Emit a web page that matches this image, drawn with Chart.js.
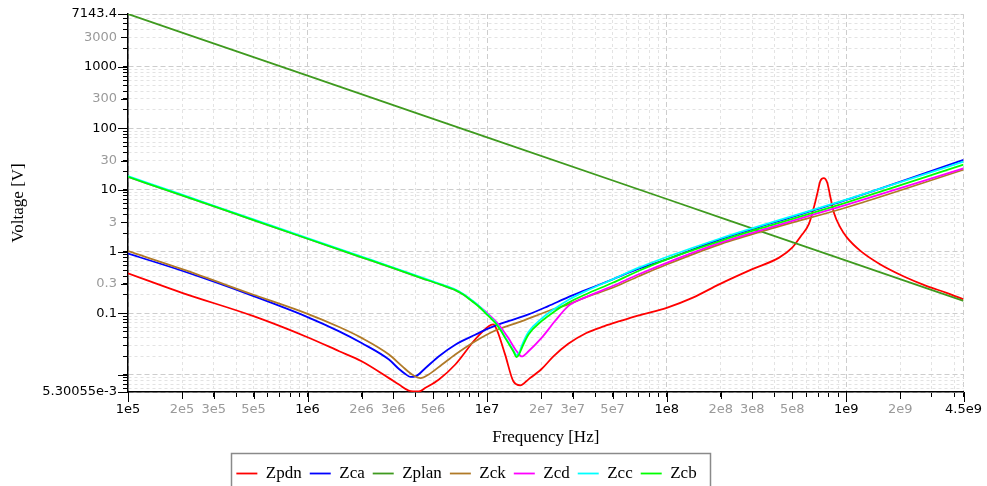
<!DOCTYPE html>
<html><head><meta charset="utf-8">
<script src="https://cdn.jsdelivr.net/npm/chart.js@4/dist/chart.umd.min.js"></script>
<style>html,body{margin:0;padding:0;background:#fff}</style>
</head><body>
<canvas id="c" width="987" height="486"></canvas>
<script>
// ---------- data ----------
const seriesNames  = ['Zpdn','Zca','Zplan','Zck','Zcd','Zcc','Zcb'];
const seriesColors = ['#ff0000','#0000ff','#3f9a1f','#b07a28','#ff00ff','#00ffff','#00ff00'];

const fPdn = [1e5,2e5,5e5,1e6,1.5e6,2e6,2.84e6,3.23e6,3.66e6,4.17e6,4.54e6,5.37e6,6.65e6,8.59e6,1.02e7,1.08e7,1.13e7,1.26e7,1.40e7,1.53e7,1.70e7,2.01e7,2.34e7,2.83e7,3.57e7,4.5e7,5.47e7,7e7,1e8,1.4e8,1.96e8,3.0e8,4.23e8,5.0e8,5.56e8,6.19e8,6.6e8,6.89e8,7.18e8,7.5e8,7.83e8,8.17e8,8.53e8,9.28e8,1.01e9,1.2e9,1.55e9,2.08e9,2.81e9,3.62e9,4.5e9];
const vPdn = [0.445,0.215,0.090,0.041,0.0243,0.0167,0.0089,0.0070,0.0056,0.0054,0.0062,0.0084,0.0148,0.038,0.062,0.066,0.055,0.0214,0.0079,0.0068,0.0085,0.0125,0.020,0.032,0.048,0.062,0.0746,0.093,0.123,0.18,0.295,0.52,0.80,1.16,1.75,2.79,5.2,8.6,14.1,15.6,13.2,7.55,4.3,2.45,1.69,1.03,0.62,0.40,0.277,0.215,0.168];

const fCa = [1e5,2e5,5e5,1e6,1.5e6,2e6,2.84e6,3.23e6,3.52e6,3.74e6,3.99e6,4.54e6,5.37e6,6.65e6,8.59e6,1.02e7,1.31e7,1.70e7,2.19e7,2.83e7,3.5e7,5e7,7e7,1e8,2e8,4e8,1e9,4.5e9];
const vCa = [0.93,0.49,0.19,0.087,0.051,0.033,0.0178,0.0125,0.0103,0.0093,0.0095,0.013,0.020,0.031,0.045,0.057,0.0746,0.096,0.131,0.183,0.235,0.356,0.53,0.75,1.6,3.0,6.9,30.9];

const fPlan = [1e5,1e6,1e7,1e8,1e9,4.5e9];
const vPlan = [7143.4,714,71.4,7.14,0.714,0.159];

const fCk = [1e5,2e5,5e5,1e6,1.5e6,2e6,2.84e6,3.37e6,3.82e6,4.26e6,4.73e6,5.61e6,6.65e6,8.59e6,1.11e7,1.56e7,2.19e7,2.83e7,3.5e7,5e7,7e7,1e8,2e8,4e8,1e9,4.5e9];
const vCk = [1.02,0.52,0.20,0.098,0.060,0.040,0.0215,0.0138,0.0102,0.0089,0.0102,0.0148,0.0215,0.0353,0.0527,0.0746,0.109,0.14,0.18,0.26,0.40,0.62,1.33,2.45,5.2,21.3];

const fCd = [1e5,2e5,5e5,1e6,2e6,2.84e6,4.35e6,5.5e6,6.65e6,7.4e6,8.22e6,9.0e6,9.75e6,1.16e7,1.31e7,1.46e7,1.56e7,1.70e7,2.01e7,2.39e7,2.83e7,3.5e7,5e7,7e7,1e8,2e8,4e8,1e9,4.5e9];
const vCd = [16.3,8.2,3.25,1.62,0.81,0.57,0.37,0.292,0.238,0.200,0.160,0.131,0.108,0.066,0.040,0.0243,0.020,0.0243,0.040,0.075,0.131,0.18,0.277,0.43,0.66,1.4,2.6,5.75,22.5];

const fCc = [1e5,2e5,5e5,1e6,2e6,2.84e6,4.35e6,5.5e6,6.65e6,7.4e6,8.22e6,9.0e6,9.75e6,1.04e7,1.11e7,1.19e7,1.26e7,1.33e7,1.40e7,1.46e7,1.51e7,1.56e7,1.70e7,2.01e7,2.39e7,2.83e7,3.5e7,5e7,7e7,1e8,2e8,4e8,1e9,4.5e9];
const vCc = [16.8,8.4,3.33,1.66,0.83,0.585,0.38,0.298,0.243,0.204,0.163,0.132,0.105,0.087,0.072,0.054,0.041,0.032,0.025,0.021,0.023,0.030,0.050,0.082,0.120,0.165,0.225,0.356,0.55,0.82,1.65,3.1,7.0,28.8];

const fCb = [1e5,2e5,5e5,1e6,2e6,2.84e6,4.35e6,5.5e6,6.65e6,7.4e6,8.22e6,9.0e6,9.75e6,1.04e7,1.11e7,1.19e7,1.26e7,1.33e7,1.40e7,1.46e7,1.51e7,1.56e7,1.70e7,2.01e7,2.39e7,2.83e7,3.5e7,5e7,7e7,1e8,2e8,4e8,1e9,4.5e9];
const vCb = [16.3,8.2,3.25,1.62,0.81,0.57,0.37,0.292,0.238,0.200,0.158,0.128,0.102,0.085,0.070,0.053,0.040,0.031,0.0243,0.0195,0.022,0.0274,0.0454,0.0746,0.109,0.148,0.20,0.313,0.49,0.75,1.5,2.8,6.26,25.7];

// ---------- tick labels ----------
const xMajor = [1e5,1e6,1e7,1e8,1e9,4.5e9];
const xMajorLabels = ['1e5','1e6','1e7','1e8','1e9','4.5e9'];
const xMinorLabeled = [2e5,3e5,5e5,2e6,3e6,5e6,2e7,3e7,5e7,2e8,3e8,5e8,2e9];
const xMinorLabels = ['2e5','3e5','5e5','2e6','3e6','5e6','2e7','3e7','5e7','2e8','3e8','5e8','2e9'];
const yMajor = [5.30055e-3,0.01,0.1,1,10,100,1000,7143.4];
const yMajorLabels = ['5.30055e-3','','0.1','1','10','100','1000','7143.4'];
const yMinorLabeled = [0.3,3,30,300,3000];
const yMinorLabels = ['0.3','3','30','300','3000'];

const seriesF = [fPdn,fCa,fPlan,fCk,fCd,fCc,fCb];
const seriesV = [vPdn,vCa,vPlan,vCk,vCd,vCc,vCb];

function near(a,b){return Math.abs(a-b) <= Math.abs(b)*1e-6;}
function buildTicks(min,max,major,majorLbl,minorL,minorLbl,decLo,decHi){
  const list=[];
  major.forEach((v,i)=>list.push({value:v,kind:'major',lbl:majorLbl[i]}));
  minorL.forEach((v,i)=>list.push({value:v,kind:'minorL',lbl:minorLbl[i]}));
  for(let e=decLo;e<=decHi;e++){
    for(let m=2;m<=9;m++){
      const v=m*Math.pow(10,e);
      if(v>min*1.0001 && v<max*0.9999 && !list.some(t=>near(t.value,v))) list.push({value:v,kind:'minor',lbl:''});
    }
  }
  list.sort((a,b)=>a.value-b.value);
  return list;
}

const datasets = seriesNames.map((n,i)=>({
  label:n,
  data: seriesF[i].map((f,j)=>({x:f,y:seriesV[i][j]})),
  borderColor: seriesColors[i],
  backgroundColor: seriesColors[i],
  borderWidth: 1.8,
  pointRadius: 0,
  cubicInterpolationMode: 'monotone',
  fill: false,
  order: seriesNames.length - i
}));

const tickFont = {family:'DejaVu Sans', size:13};
const gridColor = c => (c.tick && c.tick.kind==='major') ? '#cdcdcd' : '#e3e3e3';
const gridDash  = c => c.tick ? (c.tick.kind==='major' ? [5,3] : [3,3]) : [];
const tickColor = c => (c.tick && c.tick.kind==='major') ? '#000000' : '#9a9a9a';

const LEGEND_SHIFT = 17;

const legendBox = {
  id:'legendBox',
  afterUpdate(chart){
    const lg = chart.legend;
    if(!lg) return;
    lg.left -= LEGEND_SHIFT; lg.right -= LEGEND_SHIFT;
    (lg.legendHitBoxes||[]).forEach(h=>{ h.left -= LEGEND_SHIFT; });
  },
  afterDraw(chart){
    const ctx = chart.ctx;
    const xs = chart.scales.x, ys = chart.scales.y;
    ctx.save();
    ctx.strokeStyle = '#000'; ctx.lineWidth = 1;
    xs.ticks.forEach(t=>{
      const ext = t.kind==='major' ? 10 : (t.kind==='minorL' ? 7 : 0);
      if(!ext) return;
      const px = Math.round(xs.getPixelForValue(t.value))+0.5;
      ctx.beginPath(); ctx.moveTo(px, xs.top); ctx.lineTo(px, xs.top+ext); ctx.stroke();
    });
    ys.ticks.forEach(t=>{
      const ext = t.kind==='major' ? 10 : (t.kind==='minorL' ? 7 : 0);
      if(!ext) return;
      const py = Math.round(ys.getPixelForValue(t.value))+0.5;
      ctx.beginPath(); ctx.moveTo(ys.right, py); ctx.lineTo(ys.right-ext, py); ctx.stroke();
    });
    const hb = chart.legend.legendHitBoxes;
    if(hb && hb.length){
      const l = hb[0].left - 5, r = hb[hb.length-1].left + hb[hb.length-1].width + 14;
      const t = hb[0].top - 12;
      ctx.strokeStyle = '#8a8a8a'; ctx.lineWidth = 1.5;
      ctx.strokeRect(Math.round(l)+0.5, Math.round(t)+0.5, Math.round(r-l), chart.height - t + 10);
    }
    ctx.restore();
  }
};

new Chart(document.getElementById('c'), {
  type:'line',
  data:{datasets},
  options:{
    responsive:false,
    animation:false,
    devicePixelRatio:1,
    layout:{padding:{top:14,right:20,bottom:-6,left:0}},
    plugins:{
      legend:{
        position:'bottom',
        labels:{
          usePointStyle:true, pointStyle:'line', pointStyleWidth:21,
          padding:8, color:'#000',
          font:{family:'Liberation Serif', size:17},
          sort:(a,b)=>a.datasetIndex-b.datasetIndex
        }
      },
      tooltip:{enabled:false}
    },
    scales:{
      x:{
        type:'logarithmic', position:'bottom', min:1e5, max:4.5e9,
        afterBuildTicks: s => { s.ticks = buildTicks(1e5,4.5e9,xMajor,xMajorLabels,xMinorLabeled,xMinorLabels,5,9); },
        afterFit: s => { s.height = 65; },
        ticks:{autoSkip:false, maxRotation:0, minRotation:0, padding:5, font:tickFont, color:tickColor,
          callback:(v,i,t)=>t[i].lbl},
        grid:{color:gridColor, lineWidth:1, tickColor:'#000', tickLength:5, tickWidth:1},
        border:{display:true, color:'#000', width:1.5, dash:gridDash},
        title:{display:true, text:'Frequency [Hz]', color:'#000', font:{family:'Liberation Serif', size:17}, padding:{top:0,bottom:9}}
      },
      y:{
        type:'logarithmic', position:'left', min:5.30055e-3, max:7143.4,
        afterBuildTicks: s => { s.ticks = buildTicks(5.30055e-3,7143.4,yMajor,yMajorLabels,yMinorLabeled,yMinorLabels,-3,3); },
        afterFit: s => { s.width = 128; },
        ticks:{autoSkip:false, padding:6, font:tickFont, color:tickColor,
          callback:(v,i,t)=>t[i].lbl},
        grid:{color:gridColor, lineWidth:1, tickColor:'#000', tickLength:5, tickWidth:1},
        border:{display:true, color:'#000', width:1.5, dash:gridDash},
        title:{display:true, text:'Voltage [V]', color:'#000', font:{family:'Liberation Serif', size:17}, padding:{top:8,bottom:0}}
      }
    }
  },
  plugins:[legendBox]
});
</script>
</body></html>
